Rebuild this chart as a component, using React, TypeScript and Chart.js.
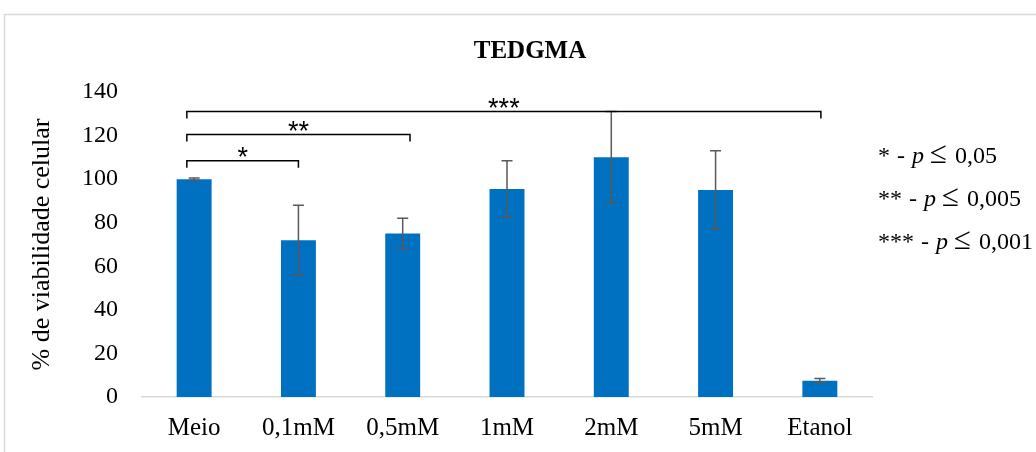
import React, { useEffect, useRef } from "react";
import { Chart, registerables } from "chart.js";

Chart.register(...registerables);

const categories = ["Meio", "0,1mM", "0,5mM", "1mM", "2mM", "5mM", "Etanol"];
const viability = [100, 72, 75, 95.5, 110, 95, 7.5];
const errors = [0.5, 16, 7, 13, 21, 18, 1];
const yTicks = [0, 20, 40, 60, 80, 100, 120, 140];

// significance brackets: from index, to index, height (value), label
const bracketFrom = [-0.07, -0.07, -0.07];
const bracketTo = [1, 2.07, 6.01];
const bracketLevel = [108.5, 120.5, 131];
const bracketLabels = ["*", "**", "***"];

const legendStars = ["*", "**", "***"];
const legendThresholds = ["0,05", "0,005", "0,001"];

const chartTitle = "TEDGMA";
const yTitle = "% de viabilidade celular";

const SERIF = "'Liberation Serif', 'Times New Roman', serif";
const SANS = "'Liberation Sans', Arial, sans-serif";

const framePlugin = {
  id: "frame",
  beforeDraw(chart: any) {
    const ctx = chart.ctx;
    ctx.save();
    ctx.fillStyle = "#ffffff";
    ctx.fillRect(0, 0, chart.width, chart.height);
    ctx.strokeStyle = "#d9d9d9";
    ctx.lineWidth = 1.5;
    ctx.strokeRect(4.5, 14.5, chart.width + 50, chart.height + 50);
    // chart title
    ctx.fillStyle = "#000000";
    ctx.font = `bold 25px ${SERIF}`;
    ctx.textAlign = "center";
    ctx.textBaseline = "alphabetic";
    ctx.fillText(chartTitle, (4 + chart.width + 20) / 2, 58);
    ctx.restore();
  },
};

const annotPlugin = {
  id: "annot",
  afterDatasetsDraw(chart: any) {
    const ctx = chart.ctx;
    const xs = chart.scales.x;
    const ys = chart.scales.y;
    ctx.save();
    // error bars
    ctx.strokeStyle = "#595959";
    ctx.lineWidth = 1.5;
    viability.forEach((v, i) => {
      const x = xs.getPixelForValue(i);
      const top = ys.getPixelForValue(v + errors[i]);
      const bot = ys.getPixelForValue(v - errors[i]);
      ctx.beginPath();
      ctx.moveTo(x, top);
      ctx.lineTo(x, bot);
      ctx.moveTo(x - 5.5, top);
      ctx.lineTo(x + 5.5, top);
      ctx.moveTo(x - 5.5, bot);
      ctx.lineTo(x + 5.5, bot);
      ctx.stroke();
    });
    // brackets
    ctx.strokeStyle = "#000000";
    ctx.fillStyle = "#000000";
    ctx.lineWidth = 1.5;
    ctx.font = `27px ${SANS}`;
    ctx.textAlign = "center";
    ctx.textBaseline = "alphabetic";
    bracketLabels.forEach((lab, k) => {
      const x1 = xs.getPixelForValue(bracketFrom[k]);
      const x2 = xs.getPixelForValue(bracketTo[k]);
      const y = ys.getPixelForValue(bracketLevel[k]);
      ctx.beginPath();
      ctx.moveTo(x1, y + 7);
      ctx.lineTo(x1, y);
      ctx.lineTo(x2, y);
      ctx.lineTo(x2, y + 7);
      ctx.stroke();
      const m = ctx.measureText(lab);
      const asc = m.actualBoundingBoxAscent;
      const desc = m.actualBoundingBoxDescent;
      const center = y - 8.5;
      ctx.fillText(lab, (x1 + x2) / 2, center + (asc - desc) / 2);
    });
    // legend of significance
    const area = chart.chartArea;
    const lx = area.right + 6;
    ctx.textAlign = "left";
    ctx.textBaseline = "alphabetic";
    legendStars.forEach((s, k) => {
      const y = area.top + 71 + k * 43;
      let x = lx;
      const parts: [string, string, number][] = [
        [s, `24px ${SERIF}`, 7],
        ["-", `24px ${SERIF}`, 7],
        ["p", `italic 24px ${SERIF}`, 6],
        ["\u2264", `31px ${SERIF}`, 8],
        [legendThresholds[k], `24px ${SERIF}`, 0],
      ];
      parts.forEach(([t, f, gap]) => {
        ctx.font = f;
        ctx.fillText(t, x, y);
        x += ctx.measureText(t).width + gap;
      });
    });
    ctx.restore();
  },
};

export default function App() {
  const ref = useRef<HTMLCanvasElement>(null);
  useEffect(() => {
    if (!ref.current) return;
    const chart = new Chart(ref.current, {
      type: "bar",
      data: {
        labels: categories,
        datasets: [
          {
            data: viability,
            backgroundColor: "#0070c0",
            borderWidth: 0,
            barPercentage: 0.335,
            categoryPercentage: 1,
          },
        ],
      },
      options: {
        animation: false,
        responsive: false,
        maintainAspectRatio: false,
        layout: { padding: { top: 92, right: 164, bottom: 9, left: 0 } },
        plugins: {
          legend: { display: false },
          tooltip: { enabled: false },
          title: { display: false },
        },
        scales: {
          x: {
            afterFit: (s: any) => {
              s.height = 46;
            },
            grid: { display: false, drawTicks: false },
            border: { display: true, color: "#d9d9d9", width: 1.5 },
            ticks: {
              color: "#000000",
              font: { family: SERIF, size: 25 },
              padding: 16,
              maxRotation: 0,
            },
          },
          y: {
            min: 0,
            max: 140,
            afterBuildTicks: (s: any) => {
              s.ticks = yTicks.map((v) => ({ value: v }));
            },
            afterFit: (s: any) => {
              s.width = 142;
            },
            grid: { display: false, drawTicks: false },
            border: { display: false },
            ticks: {
              color: "#000000",
              font: { family: SERIF, size: 24 },
              padding: 24,
            },
            title: {
              display: true,
              text: yTitle,
              color: "#000000",
              font: { family: SERIF, size: 26 },
              padding: { top: 27, bottom: 0 },
            },
          },
        },
      },
      plugins: [framePlugin, annotPlugin],
    });
    return () => chart.destroy();
  }, []);
  return (
    <div style={{ position: "absolute", left: 0, top: 0, width: 1036, height: 452 }}>
      <canvas ref={ref} width={1036} height={452} style={{ display: "block" }} />
    </div>
  );
}
